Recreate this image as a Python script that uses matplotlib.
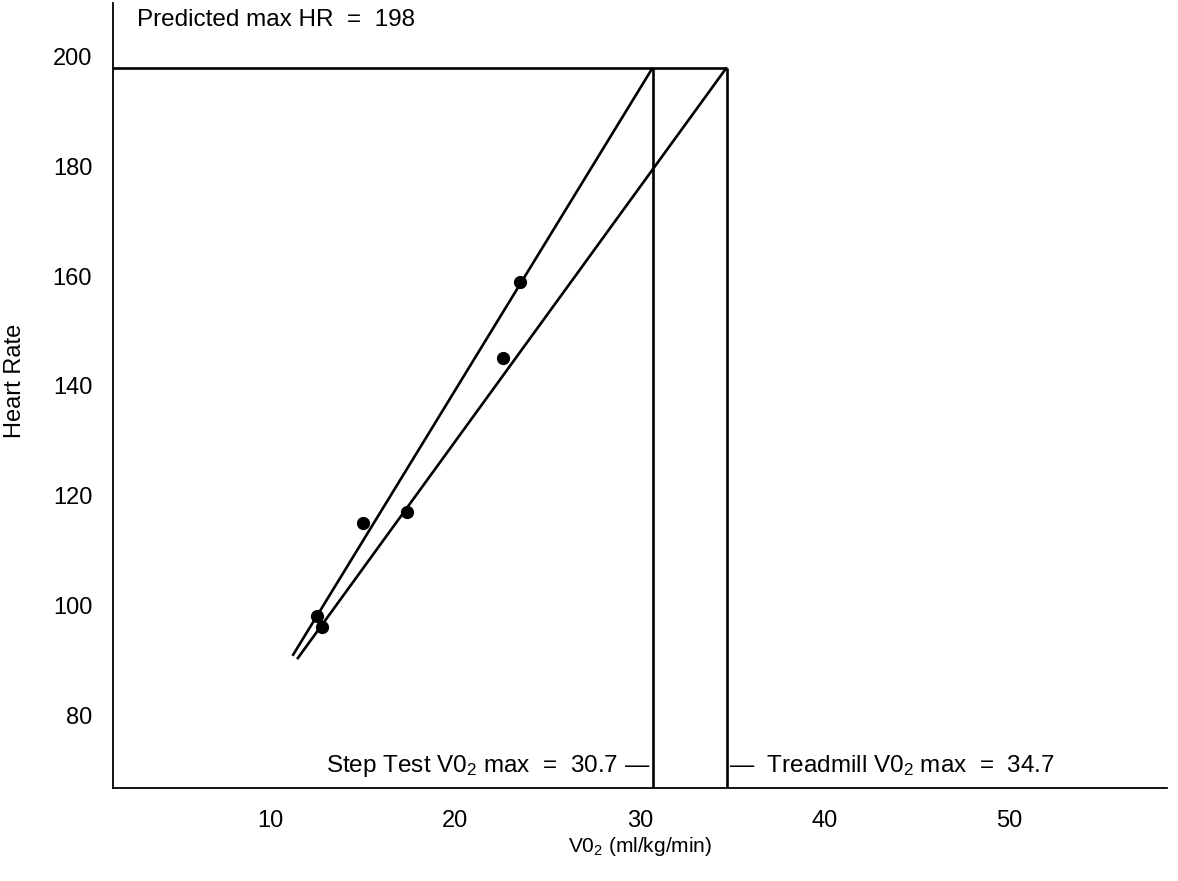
import matplotlib
matplotlib.use("Agg")
import matplotlib.pyplot as plt

plt.rcParams['font.family'] = ['Liberation Sans', 'DejaVu Sans']
plt.rcParams['mathtext.fontset'] = 'custom'
plt.rcParams['mathtext.rm'] = 'Liberation Sans'
plt.rcParams['mathtext.it'] = 'Liberation Sans'

# measured points (VO2 ml/kg/min, heart rate)
step_vo2 = [12.5, 15.0, 23.5]
step_hr = [98, 115, 159]
treadmill_vo2 = [12.8, 17.4, 22.6]
treadmill_hr = [96, 117, 145]

# fitted lines, extrapolated up to predicted max HR
step_line_vo2 = [11.2, 30.7]
step_line_hr = [90.8, 198]
treadmill_line_vo2 = [11.45, 34.7]
treadmill_line_hr = [90.2, 198]

max_hr = 198
step_max = 30.7
treadmill_max = 34.7

x_ticks = [10, 20, 30, 40, 50]
y_ticks = [80, 100, 120, 140, 160, 180, 200]

fig = plt.figure(figsize=(11.78, 8.81), dpi=100)
ax = fig.add_axes([113 / 1178, 1 - 788 / 881, 1054 / 1178, 785 / 881])

xmin, xmax = 1.48, 58.55
ymin, ymax = 66.7, 209.8
ax.set_xlim(xmin, xmax)
ax.set_ylim(ymin, ymax)

lw = 1.9
ax.plot(step_line_vo2, step_line_hr, color='black', lw=lw, solid_capstyle='butt')
ax.plot(treadmill_line_vo2, treadmill_line_hr, color='black', lw=lw, solid_capstyle='butt')
ax.plot(step_vo2, step_hr, 'o', color='black', ms=8.5)
ax.plot(treadmill_vo2, treadmill_hr, 'o', color='black', ms=8.5)

# predicted max HR line and the two VO2 max drops
ax.hlines(max_hr, xmin, treadmill_max, color='black', lw=lw)
ax.vlines([step_max, treadmill_max], ymin, max_hr, color='black', lw=lw)

ax.text(0.0228, 0.978, 'Predicted max HR  =  198', transform=ax.transAxes,
        fontsize=17.5, ha='left', va='center')

ax.annotate('Step Test V0$_2$ max  =  30.7 \u2014', xy=(step_max, 0),
            xycoords=('data', 'axes fraction'), xytext=(-2, 16),
            textcoords='offset points', fontsize=17.5, ha='right', va='center')
ax.annotate('\u2014  Treadmill V0$_2$ max  =  34.7', xy=(treadmill_max, 0),
            xycoords=('data', 'axes fraction'), xytext=(2, 16),
            textcoords='offset points', fontsize=17.5, ha='left', va='center')

ax.set_xticks(x_ticks)
ax.set_yticks(y_ticks)
ax.tick_params(length=0, labelsize=17)
ax.tick_params(axis='y', pad=15)
ax.tick_params(axis='x', pad=16)

for side in ['top', 'right']:
    ax.spines[side].set_visible(False)
for side in ['left', 'bottom']:
    ax.spines[side].set_linewidth(1.3)

ax.set_xlabel('V0$_2$ (ml/kg/min)', fontsize=15, labelpad=2)
fig.text(15 / 1178, 1 - 381 / 881, 'Heart Rate', rotation=90, fontsize=17,
         ha='center', va='center')

fig.savefig('out.png', dpi=100)
